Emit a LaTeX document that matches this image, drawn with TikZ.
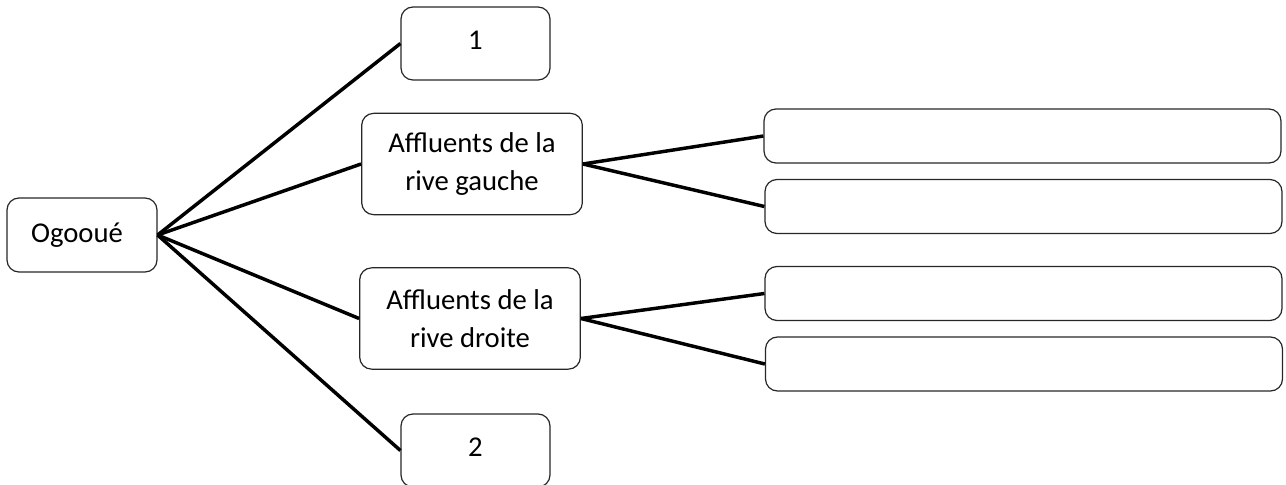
\documentclass[tikz,border=0pt]{standalone}
\usepackage{fontspec}
\setmainfont{Carlito}
\begin{document}
\begin{tikzpicture}[x=0.75pt,y=-0.75pt,
  box/.style={draw=black!85, line width=0.9pt, rounded corners=9pt, inner sep=0pt,
    align=center, font=\fontsize{21.5}{29}\selectfont},
  small/.style={box, minimum width=111.75pt, minimum height=54.75pt},
  mid/.style={box, minimum width=165.5pt, minimum height=76pt},
  wide/.style={box, minimum width=387.75pt, minimum height=40.5pt},
  link/.style={line width=2.6pt, draw=black}]
\useasboundingbox (0,0) rectangle (1286,485);
\clip (0,0) rectangle (1286,485);
\node[box, minimum width=112.5pt, minimum height=55.5pt] (og) at (82,235) {Ogoou\'e\hspace{7.5pt}};
\node[small] (b1) at (475.5,43.5) {\raisebox{5pt}{1}};
\node[small] (b2) at (475.5,450.5) {\raisebox{5pt}{2}};
\node[mid] (rg) at (472,164) {Affluents de la\\rive gauche};
\node[mid] (rd) at (470,318.5) {Affluents de la\\rive droite};
\node[wide] (r1) at (1022.5,136) {};
\node[wide] (r2) at (1023.5,206.5) {};
\node[wide] (r3) at (1023.5,293.5) {};
\node[wide] (r4) at (1024,364) {};
\draw[link] (og.east) -- (b1.west);
\draw[link] (og.east) -- (rg.west);
\draw[link] (og.east) -- (rd.west);
\draw[link] (og.east) -- (b2.west);
\draw[link] (rg.east) -- (r1.west);
\draw[link] (rg.east) -- (r2.west);
\draw[link] (rd.east) -- (r3.west);
\draw[link] (rd.east) -- (r4.west);
\end{tikzpicture}
\end{document}
